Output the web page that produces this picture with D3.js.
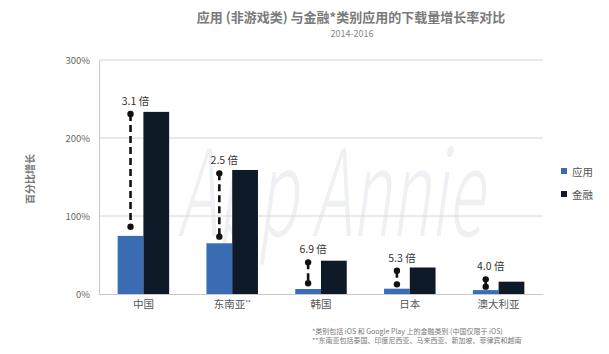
<!DOCTYPE html>
<html><head><meta charset="utf-8">
<script src="https://cdn.jsdelivr.net/npm/d3@7"></script>
<style>body{margin:0;background:#fff}svg{display:block}text{font-family:"Noto Sans CJK SC","Noto Sans",sans-serif}</style>
</head><body>
<script>
const categories = ["中国", "东南亚**", "韩国", "日本", "澳大利亚"];
const appValues = [74.5, 65, 6.4, 6.8, 5];
const financeValues = [233.5, 159, 42.7, 34, 15.8];
const dotTop = [230.8, 154.7, 40.6, 29.9, 18.8];
const dotBottom = [86.3, 73.5, 13.7, 12.4, 9.4];
const multiples = ["3.1 倍", "2.5 倍", "6.9 倍", "5.3 倍", "4.0 倍"];
const yTicks = [0, 100, 200, 300];
const seriesNames = ["应用", "金融"];
const colors = ["#3a6cb3", "#0f1a29"];

const W = 609, H = 354;
const svg = d3.select("body").append("svg").attr("width", W).attr("height", H);
const m = {l: 99, r: 66, t: 60, b: 60};
const x = d3.scaleBand().domain(categories).range([m.l, 543]).paddingInner(0.42).paddingOuter(0.21);
const y = d3.scaleLinear().domain([0, 300]).range([294, 60]);

// watermark
svg.append("text").attr("x", 178).attr("y", 236).attr("font-size", 120).attr("font-style", "italic")
  .attr("font-family", "DejaVu Sans").attr("font-weight", 200).attr("fill", "#eef0f3")
  .attr("textLength", 305).attr("lengthAdjust", "spacingAndGlyphs").text("App Annie");

// title
svg.append("text").attr("x", 351).attr("y", 22).attr("text-anchor", "middle").attr("font-size", 13)
  .attr("font-weight", "bold").attr("fill", "#7a7a7a").text("应用 (非游戏类) 与金融*类别应用的下载量增长率对比");
svg.append("text").attr("x", 352).attr("y", 37).attr("text-anchor", "middle").attr("font-size", 9)
  .attr("fill", "#888").text("2014-2016");

// gridlines
svg.append("g").selectAll("line").data(yTicks.filter(d => d > 0)).join("line")
  .attr("x1", m.l).attr("x2", 543).attr("y1", d => y(d)).attr("y2", d => y(d))
  .attr("stroke", "#d4d4d4").attr("stroke-width", 1);

// y axis
const yAxis = svg.append("g").attr("transform", `translate(${m.l},0)`)
  .call(d3.axisLeft(y).tickValues(yTicks).tickFormat(d => d + "%").tickSize(0).tickPadding(9));
yAxis.select(".domain").attr("stroke", "#c8c8c8");
yAxis.selectAll("text").attr("font-size", 9.5).attr("fill", "#666").attr("font-family", "Lato, 'Open Sans', sans-serif");

svg.append("text").attr("transform", `translate(34,179) rotate(-90)`).attr("text-anchor", "middle")
  .attr("font-size", 10).attr("font-weight", "bold").attr("fill", "#777").text("百分比增长");

// bars
const bw = x.bandwidth() / 2;
const g = svg.append("g");
g.selectAll(".app").data(categories).join("rect")
  .attr("x", d => x(d)).attr("width", bw)
  .attr("y", (d, i) => y(appValues[i])).attr("height", (d, i) => y(0) - y(appValues[i])).attr("fill", colors[0]);
g.selectAll(".fin").data(categories).join("rect")
  .attr("x", d => x(d) + bw).attr("width", bw)
  .attr("y", (d, i) => y(financeValues[i])).attr("height", (d, i) => y(0) - y(financeValues[i])).attr("fill", colors[1]);

// x axis
const xAxis = svg.append("g").attr("transform", `translate(0,${y(0)})`)
  .call(d3.axisBottom(x).tickSize(0).tickPadding(7));
xAxis.select(".domain").attr("stroke", "#c8c8c8").attr("d", `M${m.l},0.5H543`);
xAxis.selectAll("text").attr("font-size", 10.5).attr("fill", "#555");
xAxis.selectAll("text").filter(d => d === "东南亚**").text("东南亚").append("tspan")
  .attr("font-size", 6).attr("dy", -3).text("**");

// dumbbells
const dg = svg.append("g");
categories.forEach((c, i) => {
  const cx = x(c) + bw / 2;
  dg.append("line").attr("x1", cx).attr("x2", cx).attr("y1", y(dotTop[i])).attr("y2", y(dotBottom[i]))
    .attr("stroke", "#111").attr("stroke-width", 2.6).attr("stroke-dasharray", "7,4");
  [dotTop[i], dotBottom[i]].forEach(v => dg.append("circle").attr("cx", cx).attr("cy", y(v)).attr("r", 3.2).attr("fill", "#111"));
  dg.append("text").attr("x", cx + 5).attr("y", y(dotTop[i]) - 9).attr("text-anchor", "middle")
    .attr("font-size", 10.5).attr("fill", "#333").text(multiples[i]);
});

// legend
const lg = svg.append("g");
seriesNames.forEach((s, i) => {
  lg.append("rect").attr("x", 561).attr("y", 168 + i * 23).attr("width", 6).attr("height", 6).attr("fill", colors[i]);
  lg.append("text").attr("x", 572).attr("y", 175.5 + i * 23).attr("font-size", 10.5).attr("fill", "#555").text(s);
});

// footnotes
svg.append("text").attr("x", 312).attr("y", 334).attr("font-size", 7).attr("fill", "#777")
  .text("*类别包括 iOS 和 Google Play 上的金融类别 (中国仅限于 iOS)");
svg.append("text").attr("x", 312).attr("y", 343).attr("font-size", 7).attr("fill", "#777")
  .text("**东南亚包括泰国、印度尼西亚、马来西亚、新加坡、菲律宾和越南");
</script>
</body></html>
